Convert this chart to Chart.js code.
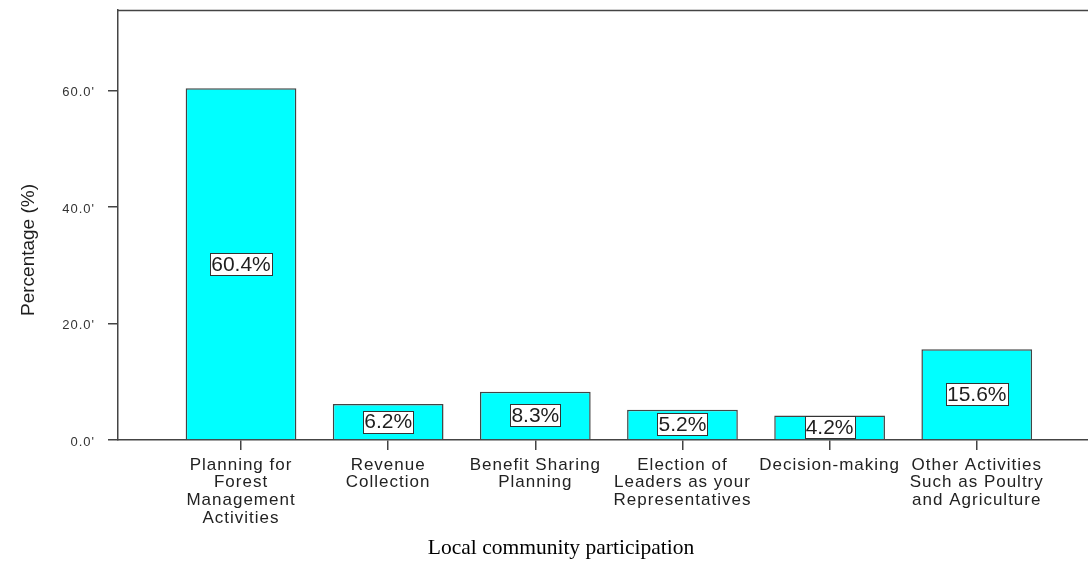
<!DOCTYPE html>
<html>
<head>
<meta charset="utf-8">
<script src="https://cdn.jsdelivr.net/npm/chart.js@4.4.1/dist/chart.umd.min.js"></script>
<style>
  html, body { margin: 0; padding: 0; background: #ffffff; }
  canvas { display: block; }
</style>
</head>
<body>
<canvas id="chart" width="1088" height="561"></canvas>
<script>
// Categories (pre-wrapped into lines), values and tick labels
const categories = [
  ['Planning for', 'Forest', 'Management', 'Activities'],
  ['Revenue', 'Collection'],
  ['Benefit Sharing', 'Planning'],
  ['Election of', 'Leaders as your', 'Representatives'],
  ['Decision-making'],
  ['Other Activities', 'Such as Poultry', 'and Agriculture']
];
const percentages = [60.4, 6.2, 8.3, 5.2, 4.2, 15.6];
const yTickValues = [0, 20, 40, 60];
const yTickLabels = ["0.0'", "20.0'", "40.0'", "60.0'"];
const xTitle = 'Local community participation';
const yTitle = 'Percentage (%)';

const SANS = '"Liberation Sans", Arial, sans-serif';
const SERIF = '"Liberation Serif", "Times New Roman", serif';
const INK = '#444444';

// Boxed percentage label in the middle of each bar, plus the frame line on top
const barLabels = {
  id: 'barLabels',
  beforeDraw(chart) {
    chart.ctx.letterSpacing = '0px';
  },
  afterDatasetsDraw(chart) {
    const ctx = chart.ctx;
    const area = chart.chartArea;
    ctx.save();
    ctx.strokeStyle = INK;
    ctx.lineWidth = 1.5;
    ctx.beginPath();
    ctx.moveTo(area.left, area.top + 0.5);
    ctx.lineTo(area.right, area.top + 0.5);
    ctx.stroke();

    ctx.font = '21px ' + SANS;
    ctx.textAlign = 'center';
    ctx.textBaseline = 'middle';
    ctx.lineWidth = 1;
    const meta = chart.getDatasetMeta(0);
    meta.data.forEach((bar, i) => {
      const text = percentages[i].toFixed(1) + '%';
      const w = Math.round(ctx.measureText(text).width) + 2;
      const h = 22;
      const cx = bar.x;
      const cy = (bar.y + bar.base) / 2;
      const x0 = Math.round(cx - w / 2) + 0.5;
      const y0 = Math.round(cy - h / 2) + 0.5;
      ctx.fillStyle = '#ffffff';
      ctx.fillRect(x0, y0, w, h);
      ctx.strokeStyle = '#333333';
      ctx.strokeRect(x0, y0, w, h);
      ctx.fillStyle = '#1e1e1e';
      ctx.fillText(text, cx, cy + 1);
    });
    ctx.restore();
    // tick labels (drawn in the next layer) use a slightly tracked face
    ctx.letterSpacing = '1px';
  },
  afterDraw(chart) {
    const ctx = chart.ctx;
    ctx.letterSpacing = '0px';
    ctx.save();
    ctx.fillStyle = '#1e1e1e';
    ctx.font = '19px ' + SANS;
    ctx.textAlign = 'center';
    ctx.textBaseline = 'middle';
    ctx.translate(29, 250);
    ctx.rotate(-Math.PI / 2);
    ctx.fillText(yTitle, 0, 0);
    ctx.restore();

    ctx.save();
    ctx.fillStyle = '#000000';
    ctx.font = '21.5px ' + SERIF;
    ctx.textAlign = 'center';
    ctx.textBaseline = 'alphabetic';
    ctx.fillText(xTitle, 561, 554);
    ctx.restore();
  }
};

const noEdgePadding = (s) => {
  s.paddingTop = 0;
  s.paddingBottom = 0;
  s.paddingLeft = 0;
  s.paddingRight = 0;
};

new Chart(document.getElementById('chart'), {
  type: 'bar',
  data: {
    datasets: [{
      data: percentages.map((v, i) => ({ x: i, y: v })),
      backgroundColor: '#00ffff',
      borderColor: '#444444',
      borderWidth: 1.5,
      categoryPercentage: 1,
      barPercentage: 0.7525
    }]
  },
  options: {
    responsive: false,
    devicePixelRatio: 1,
    animation: false,
    events: [],
    layout: { padding: { top: 10, right: 0, left: 0, bottom: 0 } },
    plugins: {
      legend: { display: false },
      tooltip: { enabled: false }
    },
    scales: {
      x: {
        type: 'linear',
        offset: false,
        min: -0.836,
        max: 5.756,
        afterBuildTicks: (s) => { s.ticks = categories.map((c, i) => ({ value: i })); },
        afterFit: (s) => { s.height = 121; noEdgePadding(s); },
        border: { color: INK, width: 1.5 },
        grid: { offset: false, drawOnChartArea: false, drawTicks: true, tickLength: 10, color: INK, lineWidth: 1.5 },
        ticks: {
          z: 1,
          autoSkip: false,
          maxRotation: 0,
          minRotation: 0,
          padding: 6,
          color: '#222222',
          font: { family: SANS, size: 17, lineHeight: 1.04 },
          callback: (v) => categories[Math.round(v)]
        }
      },
      y: {
        min: 0,
        max: 73.83,
        afterBuildTicks: (s) => { s.ticks = yTickValues.map(v => ({ value: v })); },
        afterFit: (s) => { s.width = 118; noEdgePadding(s); },
        border: { color: INK, width: 1.5 },
        grid: { drawOnChartArea: false, drawTicks: true, tickLength: 10, color: INK, lineWidth: 1.5 },
        ticks: {
          z: 1,
          padding: 13,
          labelOffset: 2,
          color: '#333333',
          font: { family: SANS, size: 13 },
          callback: (v) => yTickLabels[yTickValues.indexOf(v)]
        }
      }
    }
  },
  plugins: [barLabels]
});
</script>
</body>
</html>
